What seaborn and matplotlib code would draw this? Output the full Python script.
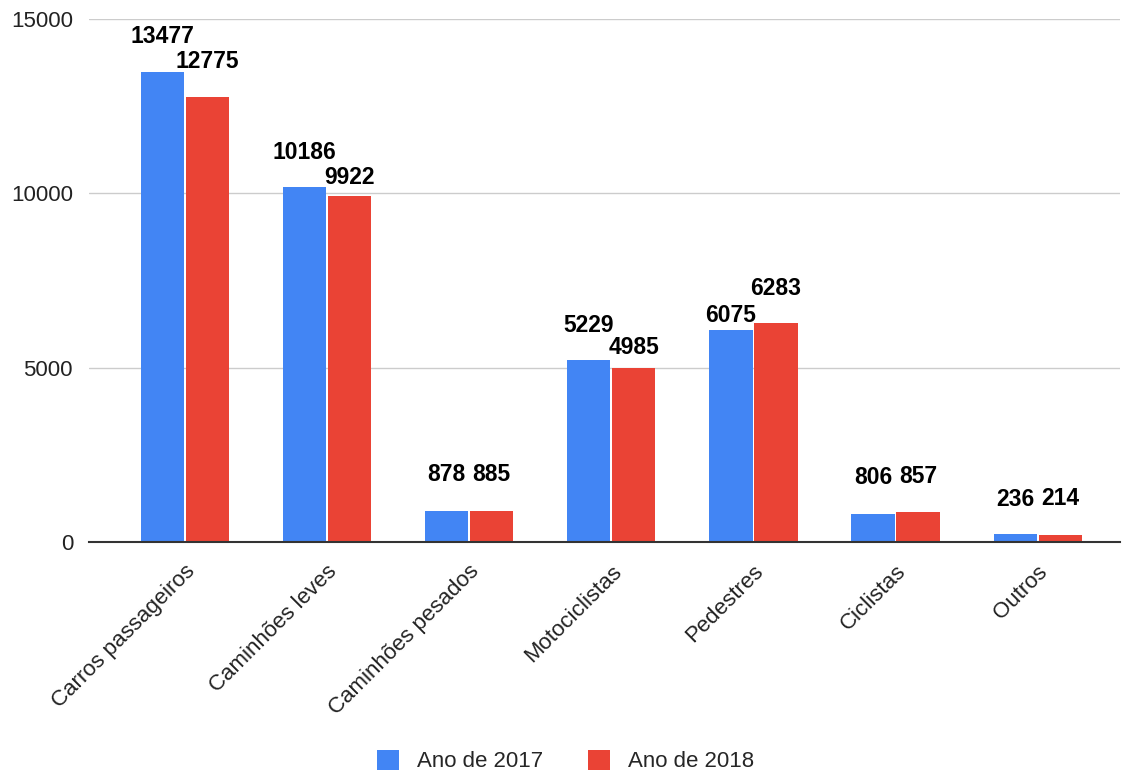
import matplotlib
matplotlib.use("Agg")
import matplotlib.pyplot as plt
import matplotlib.transforms as mtransforms
import seaborn as sns
import pandas as pd
from matplotlib.patches import Patch

categories = ["Carros passageiros", "Caminhões leves", "Caminhões pesados",
              "Motociclistas", "Pedestres", "Ciclistas", "Outros"]
series_names = ["Ano de 2017", "Ano de 2018"]
values_2017 = [13477, 10186, 878, 5229, 6075, 806, 236]
values_2018 = [12775, 9922, 885, 4985, 6283, 857, 214]
y_ticks = [0, 5000, 10000, 15000]
colors = ["#4285F4", "#EA4335"]

# label gap above each bar (pixels), as placed in the reference
label_gap_2017 = [29, 28, 30, 28, 8, 30, 28]
label_gap_2018 = [29, 12.5, 30, 14, 28, 29, 30]

df = pd.DataFrame({
    "categoria": categories * 2,
    "ano": [series_names[0]] * len(categories) + [series_names[1]] * len(categories),
    "valor": values_2017 + values_2018,
})

sns.set_theme(style="white")
plt.rcParams["font.family"] = ["Liberation Sans", "DejaVu Sans"]

fig = plt.figure(figsize=(11.31, 7.73), dpi=100)
ax = fig.add_axes([0.0787, 0.2988, 0.9113, 0.6766])

sns.barplot(data=df, x="categoria", y="valor", hue="ano", palette=colors,
            width=0.633, gap=0.04, saturation=1, ax=ax, legend=False,
            edgecolor="none")

px2pt = 72 / 100
for cont, vals, gaps in zip(ax.containers, [values_2017, values_2018],
                            [label_gap_2017, label_gap_2018]):
    for bar, v, g in zip(cont.patches, vals, gaps):
        xc = bar.get_x() + bar.get_width() / 2
        ax.annotate(f"{v}", xy=(xc, v), xytext=(0, g * px2pt),
                    textcoords="offset points", ha="center", va="baseline",
                    fontsize=16.5, fontweight="bold", color="#000000")

ax.set_ylim(0, 15000)
ax.set_xlim(-0.675, 6.577)
ax.set_yticks(y_ticks)
ax.set_yticklabels([str(t) for t in y_ticks], fontsize=16, color="#222222")
ax.tick_params(axis="y", length=0, pad=11.5)
ax.tick_params(axis="x", length=0, pad=4)
ax.set_xticks(range(len(categories)))
ax.set_xticklabels(categories, rotation=45, ha="right", va="center",
                   rotation_mode="anchor", fontsize=16, color="#222222")
offset = mtransforms.ScaledTranslation(7 / 100, -21 / 100, fig.dpi_scale_trans)
for lbl in ax.get_xticklabels():
    lbl.set_transform(lbl.get_transform() + offset)
ax.set_xlabel("")
ax.set_ylabel("")
ax.yaxis.grid(True, color="#CCCCCC", linewidth=1)
ax.set_axisbelow(True)
for s in ["left", "right", "top"]:
    ax.spines[s].set_visible(False)
ax.spines["bottom"].set_color("#333333")
ax.spines["bottom"].set_linewidth(1.5)
ax.spines["bottom"].set_zorder(5)

handles = [Patch(facecolor=c, edgecolor="none") for c in colors]
fig.legend(handles, series_names, loc="lower center", bbox_to_anchor=(0.5, -0.025),
           ncol=2, frameon=False, fontsize=16, handlelength=1.0, handleheight=1.0,
           columnspacing=2.0, handletextpad=0.8)

fig.savefig("out.png", dpi=100)
